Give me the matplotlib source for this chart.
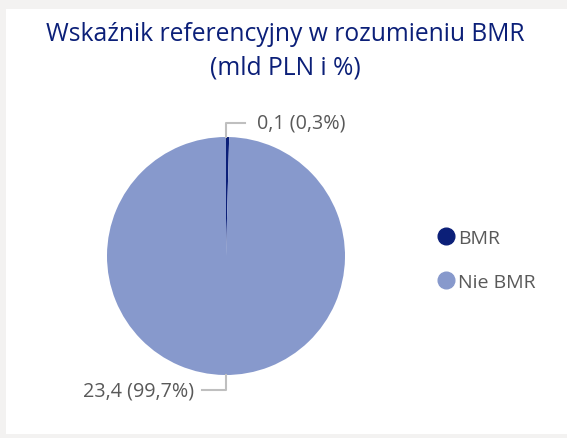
import matplotlib.pyplot as plt
from matplotlib.lines import Line2D
from matplotlib.patches import Rectangle

labels = ["BMR", "Nie BMR"]
values = [0.1, 23.4]
shares = [0.3, 99.7]
colors = ["#0b1f78", "#8799cc"]

navy = "#0b1f78"
grey = "#595959"
plt.rcParams['font.family'] = ['Open Sans', 'DejaVu Sans']

fig = plt.figure(figsize=(5.67, 4.39), dpi=100)
fig.patch.set_facecolor("#f3f2f1")
fig.patches.append(Rectangle((6 / 567, 4 / 439), 1, 425 / 439, transform=fig.transFigure,
                             facecolor="white", edgecolor="none", zorder=-5))

fig.text(285 / 567, 1 - 51 / 439, "Wskaźnik referencyjny w rozumieniu BMR\n(mld PLN i %)",
         ha="center", va="center", color=navy, fontsize=17.7, linespacing=1.45)

# pie, centre (226, 257) px, radius 119 px
ax = fig.add_axes([107 / 567, 63 / 439, 238 / 567, 238 / 439])
ax.pie(values, colors=colors, startangle=90, counterclock=False, radius=1,
       wedgeprops=dict(linewidth=0))
ax.set_xlim(-1, 1)
ax.set_ylim(-1, 1)
ax.set_aspect("equal")
ax.axis("off")

def fmt(v, s):
    return "{} ({}%)".format(str(v).replace(".", ","), str(s).replace(".", ","))

lc = "#bfbfbf"
# small slice label (top)
ax.plot([0, 0, 0.16], [1.0, 1.12, 1.12], color=lc, lw=1.5, clip_on=False)
ax.text(0.26, 1.12, fmt(values[0], shares[0]), ha="left", va="center",
        color=grey, fontsize=14.2)
# large slice label (bottom)
ax.plot([0, 0, -0.2], [-1.0, -1.13, -1.13], color=lc, lw=1.5, clip_on=False)
ax.text(-0.27, -1.13, fmt(values[1], shares[1]), ha="right", va="center",
        color=grey, fontsize=14.2)

handles = [Line2D([], [], marker="o", linestyle="none", markersize=12,
                  markerfacecolor=c, markeredgecolor=c) for c in colors]
fig.legend(handles, labels, loc="center left", bbox_to_anchor=(425 / 567, 1 - 261 / 439),
           frameon=False, fontsize=14, labelcolor=grey, handletextpad=0.0,
           labelspacing=1.35, handlelength=1.2, borderpad=0)

fig.savefig("out.png", dpi=100, facecolor=fig.get_facecolor())
